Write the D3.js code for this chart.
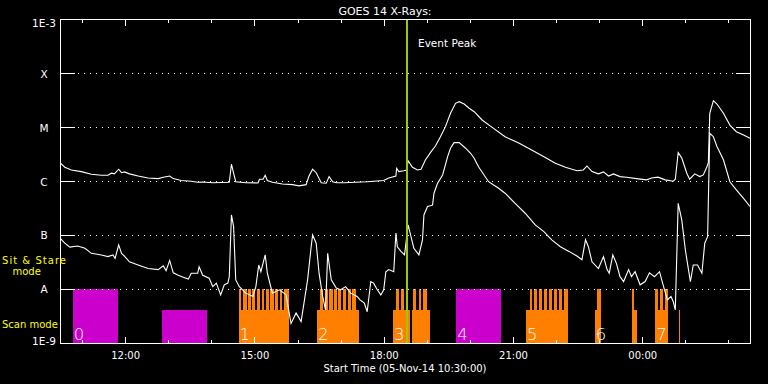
<!DOCTYPE html>
<html><head><meta charset="utf-8">
<script src="https://cdn.jsdelivr.net/npm/d3@7"></script>
<style>
body{margin:0;background:#000}
svg{display:block;background:#000}
text{font-family:"DejaVu Sans",sans-serif;fill:#fff}
</style>
</head><body>
<svg id="chart" width="768" height="384"></svg>
<script>
// ---------------- data ----------------
const startTime = "2014-11-05T10:30:00Z";
const endMinutes = 960;                // 16 hours shown
const title = "GOES 14 X-Rays:";
const xAxisTitle = "Start Time (05-Nov-14 10:30:00)";
const eventPeakMin = 482;              // ~18:32
const eventPeakLabel = "Event Peak";

const classLevels = [1e-3, 1e-4, 1e-5, 1e-6, 1e-7, 1e-8, 1e-9];
const classLabels = ["1E-3", "X", "M", "C", "B", "A", "1E-9"];
const gridLevels = [1e-4, 1e-5, 1e-6, 1e-7, 1e-8];

// long channel (1-8 A), minutes after start
const longMin = [0,6,15,29,43,57,66,71,75,81,85,89,96,108,122,136,143,152,157,168,182,191,198,212,235,238,241,244,258,275,277,282,285,288,295,309,323,332,342,346,351,356,363,370,374,379,384,395,427,450,457,467,468,471,478,482,484,490,497,502,508,515,522,529,536,543,550,555,562,569,576,587,601,619,638,656,670,689,703,719,728,733,740,749,756,763,770,779,788,802,816,823,832,842,853,856,860,865,872,876,883,890,895,900,902,904,909,914,923,932,941,951,960];
const longFlux = [2.16e-6,1.82e-6,1.62e-6,1.51e-6,1.35e-6,1.29e-6,1.29e-6,1.41e-6,1.37e-6,1.67e-6,1.44e-6,1.49e-6,1.37e-6,1.25e-6,1.15e-6,1.12e-6,1.19e-6,1.25e-6,1.12e-6,1.03e-6,1.0e-6,9.6e-7,9.7e-7,9.4e-7,9.6e-7,2.07e-6,1.41e-6,9.8e-7,9.4e-7,9.3e-7,1.09e-6,1.09e-6,1.29e-6,1.03e-6,9.6e-7,8.9e-7,8.65e-7,8.2e-7,8.65e-7,1.25e-6,1.67e-6,1.44e-6,9.4e-7,9.2e-7,1.22e-6,9.8e-7,9.4e-7,9.4e-7,9.8e-7,1.03e-6,1.15e-6,1.25e-6,1.74e-6,1.51e-6,1.57e-6,1.62e-6,2.41e-6,1.82e-6,1.62e-6,1.67e-6,2.48e-6,3.4e-6,4.5e-6,6.7e-6,1.03e-5,1.82e-5,2.79e-5,2.99e-5,2.71e-5,2.26e-5,1.95e-5,1.37e-5,1.0e-5,6.7e-6,5.1e-6,3.8e-6,3.0e-6,2.16e-6,1.82e-6,1.57e-6,1.62e-6,1.92e-6,1.51e-6,1.37e-6,1.49e-6,1.25e-6,1.37e-6,1.22e-6,1.19e-6,1.12e-6,1.06e-6,1.15e-6,1.19e-6,1.06e-6,1.0e-6,1.09e-6,3.4e-6,2.7e-6,1.41e-6,1.09e-6,1.37e-6,1.22e-6,1.31e-6,1.86e-6,2.21e-6,1.82e-5,3.12e-5,2.71e-5,1.82e-5,1.1e-5,8.3e-6,7.2e-6,6.3e-6];

// short channel (0.5-4 A)
const shortMin = [0,6,13,24,34,43,57,66,73,76,81,85,89,96,108,122,136,143,147,152,157,164,171,178,182,191,193,198,207,212,217,223,228,233,235,238,241,244,249,258,268,272,276,279,285,288,295,305,314,321,328,335,339,344,349,351,356,360,365,369,372,377,384,390,397,404,413,417,423,427,432,436,441,446,450,453,457,464,467,469,474,479,484,488,492,499,504,506,511,518,520,525,532,539,543,548,555,564,571,576,582,596,610,619,633,647,661,673,684,696,708,719,726,731,735,740,749,756,761,764,769,774,779,784,791,795,800,807,814,820,827,834,839,845,850,853,856,860,865,870,877,881,887,893,897,901,904,909,914,923,932,941,951,960];
const shortFlux = [8.6e-8,7.1e-8,6.0e-8,6.3e-8,5.7e-8,4.6e-8,4.3e-8,4.0e-8,4.3e-8,3.7e-8,6.6e-8,4.6e-8,4.1e-8,3.2e-8,2.8e-8,2.4e-8,2.3e-8,2.7e-8,2.2e-8,3.4e-8,2.0e-8,1.8e-8,1.66e-8,1.53e-8,1.97e-8,1.97e-8,2.6e-8,1.8e-8,1.59e-8,1.11e-8,1.29e-8,7.8e-9,1.2e-8,1.29e-8,1.7e-8,2.37e-7,1.44e-7,1.48e-8,1.11e-8,8.4e-9,7.3e-9,1.11e-8,2.8e-8,2.1e-8,4.3e-8,1.97e-8,8.4e-9,9.7e-9,7.8e-9,2.3e-9,3.6e-9,2.5e-9,5.5e-9,1.48e-8,6.1e-8,1.01e-7,7.1e-8,1.97e-8,7.3e-9,4.1e-9,4.6e-8,1.48e-8,1.05e-8,9.7e-9,1.11e-8,8.4e-9,7.3e-9,6.3e-9,5.5e-9,3.8e-9,1.38e-8,1.29e-8,9.7e-9,7.8e-9,9.7e-9,2.1e-8,2.3e-8,2.1e-8,1.09e-7,6.1e-8,5.0e-8,4.3e-8,1.55e-7,9.4e-8,5.7e-8,4.3e-8,8.2e-8,2.37e-7,3.4e-7,3.6e-7,6.0e-7,9.2e-7,1.31e-6,2.86e-6,4.1e-6,5.2e-6,5.2e-6,4.1e-6,3.3e-6,2.67e-6,1.86e-6,9.8e-7,7.4e-7,6.0e-7,3.9e-7,2.55e-7,1.55e-7,1.16e-7,8.2e-8,6.1e-8,5.0e-8,4.1e-8,3.5e-8,8.2e-8,6.1e-8,3.2e-8,2.4e-8,4.0e-8,2.3e-8,1.97e-8,4.3e-8,3.0e-8,1.7e-8,1.38e-8,2.3e-8,1.7e-8,2.1e-8,1.2e-8,1.38e-8,2.0e-8,1.7e-8,2.1e-8,1.2e-8,6.3e-9,7.3e-9,5.9e-9,4.1e-9,3.9e-7,1.92e-7,5.3e-8,1.38e-8,2.8e-8,2.8e-8,1.97e-8,7.1e-8,9.4e-8,7.76e-6,6.7e-6,4.4e-6,2.5e-6,9.8e-7,6.9e-7,4.8e-7,3.4e-7];

// observing-mode timeline: level 1 = "Sit & Stare", 0.62 = "Scan"
const obsLabels = ["0","1","2","3","4","5","6","7"];
const obsStart  = [17,248,357,463,551,648,744,828];
const segKind  = ["m","m",
  "o","o","o","o","o","o","o","o","o","o","o","o",
  "o","o","o","o","o","o","o","o","o",
  "o","o","o","o","o","o","o","o",
  "m",
  "o","o","o","o","o","o","o","o","o",
  "o","o","o","o",
  "o","o","o","o","o"];
const segFrom  = [17,141, 248,248,254,261,267,273,280,286,292,299,305,311, 357,362,368,374,381,387,393,400,406, 463,490,467,474,481,491,499,505, 551, 648,653,659,666,673,680,687,694,701, 744,747,796,798, 828,828,835,842,861];
const segTo    = [80,204, 318,252,259,265,271,278,284,290,297,303,309,318, 416,366,373,379,385,391,398,404,412, 487,514,471,478,484,495,502,510, 613, 707,657,663,670,677,684,691,698,706, 752,752,798,802, 846,832,839,846,863];
const segLevel = [1,0.62, 0.62,1,1,1,1,1,1,1,1,1,1,1, 0.62,1,1,1,1,1,1,1,1, 0.62,0.62,1,1,1,1,1,1, 1, 0.62,1,1,1,1,1,1,1,1, 0.62,1,1,0.62, 0.62,1,1,1,0.62];
const modeLabels = ["Sit & Stare", "mode", "Scan mode"];

// ---------------- chart ----------------
const svg = d3.select("#chart");
const t0 = new Date(startTime);
const toDate = m => new Date(t0.getTime() + m * 60000);

const x = d3.scaleUtc().domain([t0, toDate(endMinutes)]).range([60.5, 750]);
const y = d3.scaleLog().domain([1e-9, 1e-3]).range([343, 19.5]);
const barY = d3.scaleLinear().domain([0, 1]).range([y(1e-9), y(1e-8)]);
const kindColor = d3.scaleOrdinal().domain(["m","o"]).range(["#cc00cc","#ff8000"]);

// mode bars
const segs = segFrom.map((f, i) => ({f, t: segTo[i], l: segLevel[i], k: segKind[i]}));
svg.append("g").attr("shape-rendering","crispEdges")
  .selectAll("rect").data(segs).join("rect")
  .attr("x", d => x(toDate(d.f)))
  .attr("width", d => Math.max(1, x(toDate(d.t)) - x(toDate(d.f))))
  .attr("y", d => barY(d.l))
  .attr("height", d => barY(0) - barY(d.l))
  .attr("fill", d => kindColor(d.k));

// obs numbers
svg.append("g").selectAll("text").data(obsLabels).join("text")
  .attr("x", (d, i) => x(toDate(obsStart[i])) + 1)
  .attr("y", 339.5)
  .attr("font-size", 16.5)
  .attr("font-weight", 200)
  .text(d => d);

// dotted grid
svg.append("g").selectAll("line").data(gridLevels).join("line")
  .attr("x1", 78).attr("x2", 734)
  .attr("y1", d => Math.round(y(d)) + 0.5).attr("y2", d => Math.round(y(d)) + 0.5)
  .attr("stroke", "#fff").attr("stroke-dasharray", "1,5");

// curves
const line = d3.line().x(d => x(toDate(d[0]))).y(d => y(d[1]));
svg.append("path").datum(longMin.map((m, i) => [m, longFlux[i]]))
  .attr("d", line).attr("fill", "none").attr("stroke", "#fff").attr("stroke-width", 1.1);
svg.append("path").datum(shortMin.map((m, i) => [m, shortFlux[i]]))
  .attr("d", line).attr("fill", "none").attr("stroke", "#fff").attr("stroke-width", 1.1);

// event peak
const xp = Math.round(x(toDate(eventPeakMin)));
svg.append("line").attr("x1", xp).attr("x2", xp).attr("y1", 19.5).attr("y2", 343)
  .attr("stroke", "#9c0").attr("stroke-width", 2);
svg.append("text").attr("x", xp + 11).attr("y", 46.5).attr("font-size", 10.5).text(eventPeakLabel);

// axes
const hours = x.ticks(d3.utcHour.every(1));
const major = hours.filter(d => d.getUTCHours() % 3 === 0);
const minor = hours.filter(d => d.getUTCHours() % 3 !== 0);
const fmt = d3.utcFormat("%H:%M");

function styleAxis(g) {
  g.select(".domain").remove();
  g.selectAll("line").attr("stroke", "#fff").attr("shape-rendering","crispEdges");
  g.selectAll("text").attr("fill", "#fff").attr("font-size", 10)
    .attr("font-family", "DejaVu Sans, sans-serif");
}
svg.append("g").attr("transform", "translate(0,343)")
  .call(d3.axisBottom(x).tickValues(major).tickSize(-6.5).tickPadding(9).tickFormat(fmt)).call(styleAxis);
svg.append("g").attr("transform", "translate(0,343)")
  .call(d3.axisBottom(x).tickValues(minor).tickSize(-3.5).tickFormat("")).call(styleAxis);
svg.append("g").attr("transform", "translate(0,19.5)")
  .call(d3.axisTop(x).tickValues(major).tickSize(-6.5).tickFormat("")).call(styleAxis);
svg.append("g").attr("transform", "translate(0,19.5)")
  .call(d3.axisTop(x).tickValues(minor).tickSize(-3.5).tickFormat("")).call(styleAxis);

svg.append("g").attr("transform", "translate(60.5,0)")
  .call(d3.axisLeft(y).tickValues(gridLevels).tickSize(-14.5).tickFormat("")).call(styleAxis);
svg.append("g").attr("transform", "translate(750,0)")
  .call(d3.axisRight(y).tickValues(gridLevels).tickSize(-14.5).tickFormat("")).call(styleAxis);

// y labels (centered)
svg.append("g").selectAll("text").data(classLevels).join("text")
  .attr("x", 44).attr("text-anchor", "middle")
  .attr("y", (d, i) => i === 0 ? 27 : i === classLevels.length - 1 ? 344.5 : y(d) + 4.3)
  .attr("font-size", 10.5)
  .text((d, i) => classLabels[i]);

// frame
svg.append("rect").attr("x", 60.5).attr("y", 19.5).attr("width", 689.5).attr("height", 323.5)
  .attr("fill", "none").attr("stroke", "#fff").attr("shape-rendering","crispEdges");

// mode labels
svg.append("text").attr("x", 2).attr("y", 263.5).attr("font-size", 10).attr("textLength", 64)
  .attr("lengthAdjust", "spacing").style("fill", "#ff0").text(modeLabels[0]);
svg.append("text").attr("x", 12.5).attr("y", 275).attr("font-size", 10).style("fill", "#ff0").text(modeLabels[1]);
svg.append("text").attr("x", 2).attr("y", 327.5).attr("font-size", 10).style("fill", "#ff0").text(modeLabels[2]);

// titles
svg.append("text").attr("x", 385).attr("y", 15).attr("text-anchor", "middle").attr("font-size", 11).text(title);
svg.append("text").attr("x", 405).attr("y", 371.5).attr("text-anchor", "middle").attr("font-size", 10).text(xAxisTitle);
</script>
</body></html>
